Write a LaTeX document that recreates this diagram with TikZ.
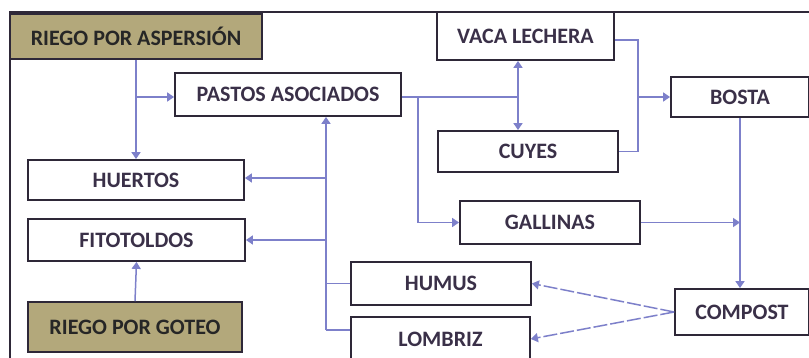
\documentclass[tikz,border=0pt]{standalone}
\usepackage{fontspec}
\setmainfont{Carlito}
\usetikzlibrary{arrows.meta,calc}
\definecolor{olive}{HTML}{B3A87B}
\definecolor{edge}{HTML}{2E2838}
\definecolor{txt}{HTML}{3A3048}
\definecolor{arrc}{HTML}{7D80CA}
\tikzset{
  box/.style={draw=edge, line width=1.8pt, fill=white, inner sep=0pt, font=\fontsize{22}{26}\selectfont\bfseries, text=txt},
  goldbox/.style={box, fill=olive, text=black!85},
  arr/.style={draw=arrc, line width=1.5pt, -{Triangle[length=7pt,width=9pt]}},
  ln/.style={draw=arrc, line width=1.5pt},
  dsh/.style={arr, dash pattern=on 14pt off 3pt},
}
\begin{document}
\begin{tikzpicture}[x=1pt,y=-1pt]
\clip (0,0) rectangle (809,358);
\fill[white] (0,0) rectangle (809,358);
% frame
\draw[edge, line width=1.8pt] (809,12) -- (10,12) -- (10,360);
% nodes
\node[goldbox, minimum width=252pt, minimum height=45pt] (asp) at (136,36.5) {RIEGO POR ASPERSIÓN};
\node[box, minimum width=226pt, minimum height=43pt] (pastos) at (288,94.5) {PASTOS ASOCIADOS};
\node[box, minimum width=177pt, minimum height=48pt] (vaca) at (525.5,36) {VACA LECHERA};
\node[box, minimum width=180pt, minimum height=41pt] (cuyes) at (528,151.5) {CUYES};
\node[box, minimum width=138pt, minimum height=40pt] (bosta) at (740,97) {BOSTA};
\node[box, minimum width=216pt, minimum height=40pt] (huertos) at (136,180) {HUERTOS};
\node[box, minimum width=217pt, minimum height=42pt] (fito) at (136.5,240) {FITOTOLDOS};
\node[box, minimum width=180pt, minimum height=43pt] (gallinas) at (550,222.5) {GALLINAS};
\node[box, minimum width=180pt, minimum height=43pt] (humus) at (441,283.5) {HUMUS};
\node[goldbox, minimum width=214pt, minimum height=50pt] (goteo) at (135,327) {RIEGO POR GOTEO};
\node[box, minimum width=134pt, minimum height=46pt] (compost) at (742,312) {COMPOST};
\node[box, minimum width=179pt, minimum height=44pt] (lombriz) at (440.5,339) {LOMBRIZ};
% coordinates
\coordinate (j1) at (518,97);
\coordinate (j2) at (418,97);
\coordinate (vx) at (638,40);
\coordinate (vy) at (326,0);
\coordinate (lj) at (326,330);
% connectors
\draw[arr] (asp.south) -- (huertos.north);
\draw[arr] (asp.south |- j1) -- (pastos.west |- j1);
\draw[ln] (pastos.east |- j1) -- (j1);
\draw[arr] (j1) -- (j1 |- vaca.south);
\draw[arr] (j1) -- (j1 |- cuyes.north);
\draw[arr] (j2) |- (gallinas.west);
\draw[ln] (vaca.east |- vx) -- (vx) -- (vx |- cuyes.east) -- (cuyes.east);
\draw[arr] (vx |- bosta.west) -- (bosta.west);
\draw[arr] (bosta.south) -- (bosta.south |- compost.north);
\draw[arr] (gallinas.east) -- (bosta.south |- gallinas.east);
\draw[ln] (lombriz.west |- lj) -- (lj);
\draw[arr] (lj) -- (vy |- pastos.south);
\draw[ln] (humus.west) -- (vy |- humus.west);
\draw[arr] (vy |- 0,178) -- (huertos.east |- 0,178);
\draw[arr] (vy |- fito.east) -- (fito.east);
\draw[arr] (goteo.north) -- (fito.south);
\draw[dsh] (compost.west) -- (humus.east);
\draw[dsh] (compost.west) -- (lombriz.east);
\end{tikzpicture}
\end{document}
